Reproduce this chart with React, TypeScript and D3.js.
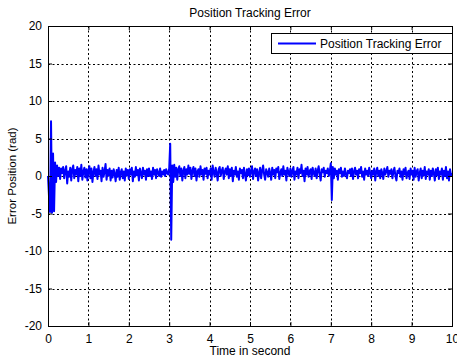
import React, { useEffect, useRef } from 'react';
import * as d3 from 'd3';

// sample step of the recorded error, in seconds
const dt = 0.025;

// error position (rad), one row per half second
const errorValues: number[] = [
  0.0, -2.7, -4.8, 7.3, -4.9, 3.0, -4.7, 1.8, -0.8, 1.4, 0.0, 1.1, -0.4, 1.0, 0.4, 1.2, -0.3, 0.7, 1.3, -1.0,
  0.6, -0.1, 1.1, -0.6, 0.9, 1.4, -0.3, 0.8, 0.2, 1.2, -0.7, 1.0, 0.0, 1.5, -0.5, 0.6, 1.1, -0.2, 0.9, -0.6,
  0.8, 1.3, -0.3, 1.0, -0.8, 0.5, 1.2, 0.0, 0.9, -0.4, 1.4, 0.2, 0.7, -0.7, 1.1, -0.1, 0.6, 1.6, -0.5, 0.8,
  0.1, 1.0, -0.6, 0.7, -0.2, 0.9, 0.3, -0.7, 0.8, -0.1, 1.1, -0.5, 0.5, 0.9, -0.3, 0.6, -0.6, 1.0, 0.1, 0.8,
  -0.4, 0.9, 0.2, 1.1, -0.7, 0.6, -0.1, 1.2, 0.1, 0.8, -0.6, 1.0, 0.4, -0.3, 1.1, 0.2, 0.7, -0.5, 0.9, 0.0,
  1.0, 0.0, 0.6, -0.4, 1.1, 0.2, 0.8, -0.3, 0.9, 0.4, 0.0, 1.0, -0.1, 0.6, 0.2, 0.8, 0.0, 0.9, 0.4, 0.2,
  1.0, 4.3, -8.5, 1.4, -0.8, 1.5, -0.1, 1.1, -0.5, 0.9, 1.3, 0.0, 1.0, -0.6, 0.7, 1.2, -0.3, 0.9, 0.2, 1.4,
  0.3, 1.1, -0.4, 0.7, 1.2, 0.0, 1.0, -0.6, 0.6, 0.9, -0.1, 1.3, 0.2, 0.8, -0.5, 1.0, 0.3, 1.1, -0.3, 0.7,
  0.2, 1.0, -0.5, 1.4, 0.5, -0.1, 1.1, 0.4, -0.6, 0.9, 1.2, 0.0, 0.7, 1.1, -0.4, 0.6, 1.0, 0.2, 1.3, -0.3,
  0.9, 0.0, 1.1, -0.7, 0.7, 0.2, 1.2, -0.1, 0.6, -0.5, 1.0, 0.4, 0.8, -0.3, 1.1, 0.2, -0.6, 0.9, 0.1, 1.0,
  -0.1, 0.7, 1.3, -0.4, 0.6, 1.0, 0.0, 0.9, -0.6, 0.4, 1.1, -0.3, 0.7, 1.4, 0.2, -0.5, 0.9, 0.5, -0.1, 1.0,
  0.4, -0.5, 1.1, 0.2, 0.8, -0.3, 1.0, 0.5, 1.2, -0.4, 0.4, 0.9, 0.0, 1.3, 0.2, 0.7, -0.6, 1.1, 0.5, 0.0,
  1.0, -0.1, 0.7, 1.2, -0.5, 0.6, 0.2, 1.1, -0.3, 0.9, 0.4, 1.5, 0.0, 0.7, -0.7, 1.0, 0.2, 1.2, -0.1, 0.6,
  0.9, -0.4, 1.1, 0.4, 0.0, 1.0, -0.3, 0.7, 1.3, 0.2, -0.6, 0.9, 0.5, 1.1, -0.1, 0.7, 0.4, 1.0, 0.0, 0.6,
  1.7, -3.2, 1.2, -0.3, 1.0, 0.2, 0.7, -0.5, 0.9, 0.4, 1.1, -0.1, 0.6, 0.0, 1.0, 0.2, -0.3, 0.7, 0.4, 0.9,
  0.0, 1.0, -0.4, 0.6, 1.1, 0.2, 0.7, -0.3, 0.9, 0.4, 1.2, -0.1, 0.6, -0.5, 1.0, 0.2, 0.7, 0.0, 1.1, 0.4,
  -0.3, 0.7, 0.2, 1.0, -0.6, 0.6, 1.1, 0.0, 0.7, -0.3, 0.9, 0.4, -0.4, 1.0, 0.2, 0.6, 1.2, -0.1, 0.7, 0.3,
  0.9, -0.3, 0.6, 1.1, 0.0, -0.6, 0.7, 0.4, 1.0, -0.1, 0.6, -0.5, 0.9, 0.2, 1.1, -0.3, 0.4, 0.7, -0.4, 1.0,
  0.2, 0.7, -0.5, 1.1, -0.1, 0.6, 0.9, -0.6, 0.4, 1.0, -0.3, 0.7, 0.1, 1.2, -0.4, 0.6, 0.2, 0.9, -0.5, 0.7,
  0.0, 1.0, 0.4, -0.6, 0.9, 0.1, 1.1, -0.4, 0.6, 0.2, 1.0, -0.5, 0.7, 0.0, 1.2, -0.3, 0.6, -0.6, 0.9, 0.1,
  0.4,
];

const xTicks = [0, 1, 2, 3, 4, 5, 6, 7, 8, 9, 10];
const yTicks = [-20, -15, -10, -5, 0, 5, 10, 15, 20];

const W = 457;
const H = 358;
const margin = { top: 26, right: 5, bottom: 32, left: 48 };
const font = 'Liberation Sans, Arial, sans-serif';

const App = () => {
  const svgRef = useRef<SVGSVGElement>(null);

  useEffect(() => {
    const svg = d3.select(svgRef.current);
    svg.selectAll('*').remove();

    const x0 = margin.left;
    const x1 = W - margin.right;
    const y0 = margin.top;
    const y1 = H - margin.bottom;

    const x = d3.scaleLinear().domain([0, 10]).range([x0, x1]);
    const y = d3.scaleLinear().domain([-20, 20]).range([y1, y0]);

    svg.append('rect').attr('width', W).attr('height', H).attr('fill', 'white');

    // dotted grid
    const grid = svg.append('g')
      .attr('stroke', 'black')
      .attr('stroke-width', 1)
      .attr('stroke-dasharray', '2,2.5');
    grid.selectAll('line.gx')
      .data(xTicks.slice(1, -1))
      .enter().append('line')
      .attr('x1', d => Math.round(x(d)) + 0.5)
      .attr('x2', d => Math.round(x(d)) + 0.5)
      .attr('y1', y0)
      .attr('y2', y1);
    grid.selectAll('line.gy')
      .data(yTicks.slice(1, -1))
      .enter().append('line')
      .attr('x1', x0)
      .attr('x2', x1)
      .attr('y1', d => Math.round(y(d)) + 0.5)
      .attr('y2', d => Math.round(y(d)) + 0.5);

    // signal
    const data = errorValues.map((v, i) => [i * dt, v] as [number, number]);
    const line = d3.line<[number, number]>()
      .x(d => x(d[0]))
      .y(d => y(d[1]));
    svg.append('path')
      .datum(data)
      .attr('d', line)
      .attr('fill', 'none')
      .attr('stroke', '#0000ff')
      .attr('stroke-width', 2)
      .attr('stroke-linejoin', 'round');

    // axes, ticks pointing inwards on all four sides
    const styleAxis = (g: any) => {
      g.select('.domain').remove();
      g.selectAll('line').attr('stroke', 'black');
      g.selectAll('text')
        .attr('font-family', font)
        .attr('font-size', 12)
        .attr('fill', 'black');
    };
    const plain = (d: any) => String(d);

    svg.append('g')
      .attr('transform', `translate(0,${y1})`)
      .call(d3.axisBottom(x).tickValues(xTicks).tickSizeInner(-4).tickSizeOuter(0).tickPadding(8).tickFormat(plain))
      .call(styleAxis);
    svg.append('g')
      .attr('transform', `translate(0,${y0})`)
      .call(d3.axisTop(x).tickValues(xTicks).tickSizeInner(-4).tickSizeOuter(0).tickFormat(() => ''))
      .call(styleAxis);
    svg.append('g')
      .attr('transform', `translate(${x0},0)`)
      .call(d3.axisLeft(y).tickValues(yTicks).tickSizeInner(-4).tickSizeOuter(0).tickPadding(6).tickFormat(plain))
      .call(styleAxis);
    svg.append('g')
      .attr('transform', `translate(${x1},0)`)
      .call(d3.axisRight(y).tickValues(yTicks).tickSizeInner(-4).tickSizeOuter(0).tickFormat(() => ''))
      .call(styleAxis);

    // frame
    svg.append('rect')
      .attr('x', x0 + 0.5)
      .attr('y', y0 + 0.5)
      .attr('width', x1 - x0)
      .attr('height', y1 - y0)
      .attr('fill', 'none')
      .attr('stroke', 'black')
      .attr('stroke-width', 1);

    // legend
    const lg = svg.append('g').attr('transform', `translate(271,33)`);
    lg.append('rect')
      .attr('x', 0.5)
      .attr('y', 0.5)
      .attr('width', 181)
      .attr('height', 20)
      .attr('fill', 'white')
      .attr('stroke', 'black');
    lg.append('line')
      .attr('x1', 7)
      .attr('x2', 45)
      .attr('y1', 10.5)
      .attr('y2', 10.5)
      .attr('stroke', '#0000ff')
      .attr('stroke-width', 2);
    lg.append('text')
      .attr('x', 49)
      .attr('y', 15)
      .attr('font-family', font)
      .attr('font-size', 12)
      .text('Position Tracking Error');

    // title and axis labels
    svg.append('text')
      .attr('x', 250)
      .attr('y', 17)
      .attr('text-anchor', 'middle')
      .attr('font-family', font)
      .attr('font-size', 12)
      .text('Position Tracking Error');
    svg.append('text')
      .attr('x', 250)
      .attr('y', 355)
      .attr('text-anchor', 'middle')
      .attr('font-family', font)
      .attr('font-size', 12)
      .text('Time in second');
    svg.append('text')
      .attr('transform', `translate(16,${(y0 + y1) / 2}) rotate(-90)`)
      .attr('text-anchor', 'middle')
      .attr('font-family', font)
      .attr('font-size', 11.5)
      .text('Error Position (rad)');
  }, []);

  return (
    <div style={{ position: 'absolute', left: 0, top: 0 }}>
      <svg ref={svgRef} width={W} height={H} style={{ display: 'block' }} />
    </div>
  );
};

export default App;
